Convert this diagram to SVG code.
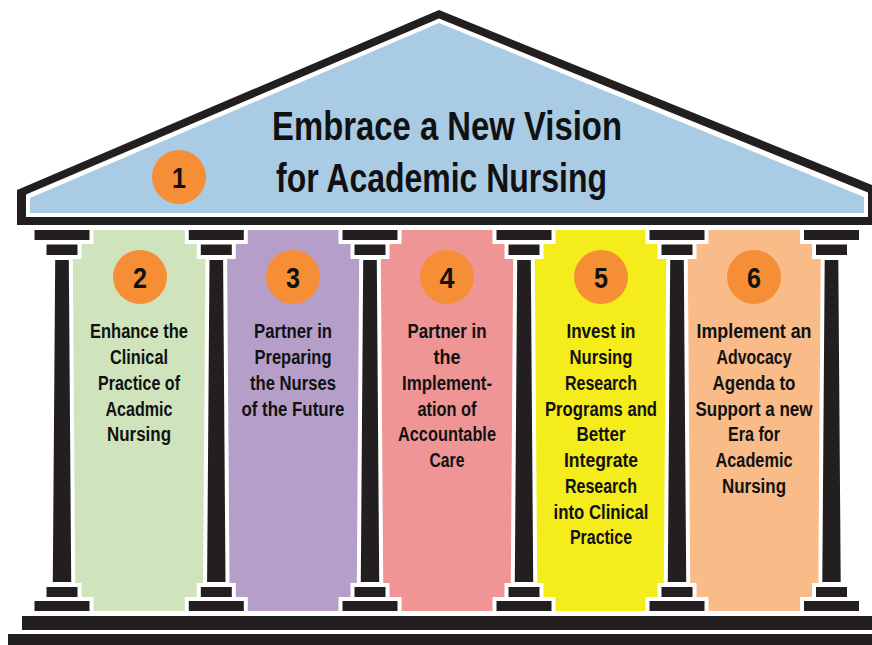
<svg xmlns="http://www.w3.org/2000/svg" width="872" height="645" viewBox="0 0 872 645">
<style>
.blk{fill:#231f20}
.col{fill:#231f20;stroke:#ffffff;stroke-width:8;paint-order:stroke;stroke-linejoin:miter}
.badge{fill:#f58e35}
.num{font-family:"Liberation Sans",Arial,sans-serif;font-weight:bold;font-size:29px;text-anchor:middle;fill:#111}
.lbl{font-family:"Liberation Sans",Arial,sans-serif;font-weight:bold;font-size:20px;text-anchor:middle;fill:#111}
.ttl{font-family:"Liberation Sans",Arial,sans-serif;font-weight:bold;font-size:40px;text-anchor:middle;fill:#111}
</style>
<defs>
<g id="column">
<rect class="col" x="-27.5" y="230" width="55" height="10"/>
<rect class="col" x="-15.5" y="244.5" width="31" height="10.5"/>
<polygon class="col" points="-6.8,260 6.8,260 9.2,582 -9.2,582"/>
<rect class="col" x="-15.5" y="587" width="31" height="10"/>
<rect class="col" x="-27.5" y="601" width="55" height="10"/>
</g>
</defs>

<g id="roof">
<polygon class="blk" points="17,190 439,10 872,185 872,225 17,225"/>
<polygon fill="#ffffff" points="26,194.5 439,18.5 868,192.5 868,217 26,217"/>
<polygon fill="#aacbe4" points="30,198 439,23 864,197 864,213 30,213"/>
<circle class="badge" cx="179" cy="177" r="27"/>
<text class="num" x="179" y="187.5" textLength="14" lengthAdjust="spacingAndGlyphs">1</text>
<text class="ttl" x="447" y="140" textLength="350" lengthAdjust="spacingAndGlyphs">Embrace a New Vision</text>
<text class="ttl" x="441.5" y="192" textLength="331" lengthAdjust="spacingAndGlyphs">for Academic Nursing</text>
</g>

<g id="pillar-2">
<rect x="62" y="230" width="154.3" height="381" fill="#cfe4bd"/>
<circle class="badge" cx="140" cy="277" r="27"/>
<text class="num" x="140" y="287.5" textLength="14" lengthAdjust="spacingAndGlyphs">2</text>
<text class="lbl" x="139" y="338" textLength="98" lengthAdjust="spacingAndGlyphs">Enhance the</text>
<text class="lbl" x="139" y="364" textLength="58" lengthAdjust="spacingAndGlyphs">Clinical</text>
<text class="lbl" x="139" y="390" textLength="82" lengthAdjust="spacingAndGlyphs">Practice of</text>
<text class="lbl" x="139" y="415.5" textLength="67" lengthAdjust="spacingAndGlyphs">Acadmic</text>
<text class="lbl" x="139" y="441" textLength="64" lengthAdjust="spacingAndGlyphs">Nursing</text>
</g>

<g id="pillar-3">
<rect x="216.3" y="230" width="153.7" height="381" fill="#b59fc9"/>
<circle class="badge" cx="293" cy="277" r="27"/>
<text class="num" x="293" y="287.5" textLength="14" lengthAdjust="spacingAndGlyphs">3</text>
<text class="lbl" x="293" y="338" textLength="78" lengthAdjust="spacingAndGlyphs">Partner in</text>
<text class="lbl" x="293" y="364" textLength="77" lengthAdjust="spacingAndGlyphs">Preparing</text>
<text class="lbl" x="293" y="390" textLength="86" lengthAdjust="spacingAndGlyphs">the Nurses</text>
<text class="lbl" x="293" y="415.5" textLength="103" lengthAdjust="spacingAndGlyphs">of the Future</text>
</g>

<g id="pillar-4">
<rect x="370" y="230" width="154" height="381" fill="#ef9596"/>
<circle class="badge" cx="447" cy="277" r="27"/>
<text class="num" x="447" y="287.5" textLength="15" lengthAdjust="spacingAndGlyphs">4</text>
<text class="lbl" x="447" y="338" textLength="79" lengthAdjust="spacingAndGlyphs">Partner in</text>
<text class="lbl" x="447" y="364" textLength="27" lengthAdjust="spacingAndGlyphs">the</text>
<text class="lbl" x="447" y="390" textLength="90" lengthAdjust="spacingAndGlyphs">Implement-</text>
<text class="lbl" x="447" y="415.5" textLength="59" lengthAdjust="spacingAndGlyphs">ation of</text>
<text class="lbl" x="447" y="441" textLength="98" lengthAdjust="spacingAndGlyphs">Accountable</text>
<text class="lbl" x="447" y="467" textLength="35" lengthAdjust="spacingAndGlyphs">Care</text>
</g>

<g id="pillar-5">
<rect x="524" y="230" width="153" height="381" fill="#f5ec1b"/>
<circle class="badge" cx="601" cy="277" r="27"/>
<text class="num" x="601" y="287.5" textLength="14" lengthAdjust="spacingAndGlyphs">5</text>
<text class="lbl" x="601" y="338" textLength="69" lengthAdjust="spacingAndGlyphs">Invest in</text>
<text class="lbl" x="601" y="364" textLength="63" lengthAdjust="spacingAndGlyphs">Nursing</text>
<text class="lbl" x="601" y="390" textLength="72" lengthAdjust="spacingAndGlyphs">Research</text>
<text class="lbl" x="601" y="415.5" textLength="112" lengthAdjust="spacingAndGlyphs">Programs and</text>
<text class="lbl" x="601" y="441" textLength="49" lengthAdjust="spacingAndGlyphs">Better</text>
<text class="lbl" x="601" y="467" textLength="74" lengthAdjust="spacingAndGlyphs">Integrate</text>
<text class="lbl" x="601" y="493" textLength="72" lengthAdjust="spacingAndGlyphs">Research</text>
<text class="lbl" x="601" y="518.5" textLength="95" lengthAdjust="spacingAndGlyphs">into Clinical</text>
<text class="lbl" x="601" y="544" textLength="62" lengthAdjust="spacingAndGlyphs">Practice</text>
</g>

<g id="pillar-6">
<rect x="677" y="230" width="154.5" height="381" fill="#f9bb88"/>
<circle class="badge" cx="754" cy="277" r="27"/>
<text class="num" x="754" y="287.5" textLength="14" lengthAdjust="spacingAndGlyphs">6</text>
<text class="lbl" x="754" y="338" textLength="115" lengthAdjust="spacingAndGlyphs">Implement an</text>
<text class="lbl" x="754" y="364" textLength="75" lengthAdjust="spacingAndGlyphs">Advocacy</text>
<text class="lbl" x="754" y="390" textLength="83" lengthAdjust="spacingAndGlyphs">Agenda to</text>
<text class="lbl" x="754" y="415.5" textLength="117" lengthAdjust="spacingAndGlyphs">Support a new</text>
<text class="lbl" x="754" y="441" textLength="52" lengthAdjust="spacingAndGlyphs">Era for</text>
<text class="lbl" x="754" y="467" textLength="77" lengthAdjust="spacingAndGlyphs">Academic</text>
<text class="lbl" x="754" y="493" textLength="64" lengthAdjust="spacingAndGlyphs">Nursing</text>
</g>

<g id="columns">
<use href="#column" transform="translate(62,0)"/>
<use href="#column" transform="translate(216.3,0)"/>
<use href="#column" transform="translate(370,0)"/>
<use href="#column" transform="translate(524,0)"/>
<use href="#column" transform="translate(677,0)"/>
<use href="#column" transform="translate(831.5,0)"/>
</g>

<g id="base">
<rect class="blk" x="22" y="616" width="850" height="14"/>
<rect class="blk" x="8" y="634" width="864" height="11"/>
</g>
</svg>
